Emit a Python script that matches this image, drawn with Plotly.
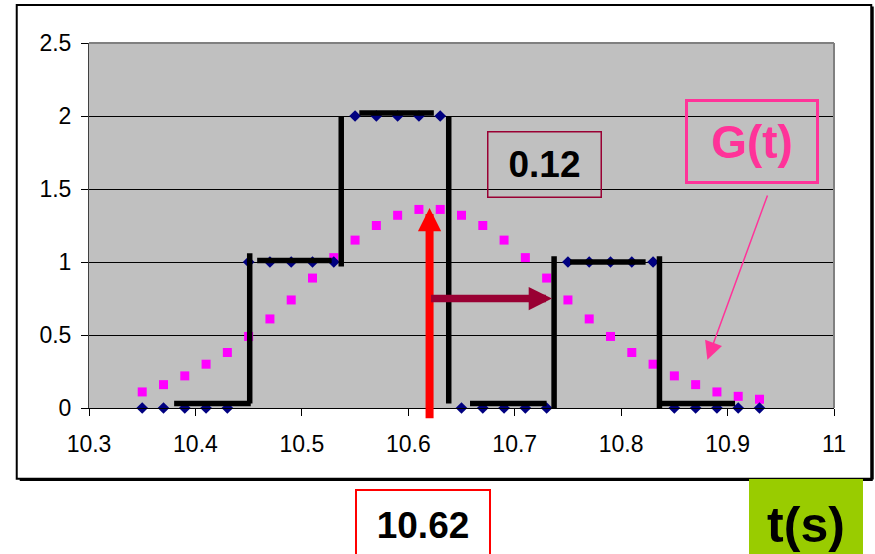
import plotly.graph_objects as go

# ---- data ----
t = [10.35, 10.37, 10.39, 10.41, 10.43, 10.45, 10.47, 10.49, 10.51, 10.53,
     10.55, 10.57, 10.59, 10.61, 10.63, 10.65, 10.67, 10.69, 10.71, 10.73,
     10.75, 10.77, 10.79, 10.81, 10.83, 10.85, 10.87, 10.89, 10.91, 10.93]
signal = [0, 0, 0, 0, 0, 1, 1, 1, 1, 1,
          2, 2, 2, 2, 2, 0, 0, 0, 0, 0,
          1, 1, 1, 1, 1, 0, 0, 0, 0, 0]
g_t = [0.11, 0.16, 0.22, 0.30, 0.38, 0.49, 0.61, 0.74, 0.89, 1.03,
       1.15, 1.25, 1.32, 1.36, 1.36, 1.32, 1.25, 1.15, 1.03, 0.89,
       0.74, 0.61, 0.49, 0.38, 0.30, 0.22, 0.16, 0.11, 0.08, 0.06]

# hand-drawn step segments (data coords), None separates segments
step_x = [10.38, 10.452, None, 10.451, 10.451, None, 10.458, 10.528, None,
          10.537, 10.537, None, 10.554, 10.624, None, 10.638, 10.638, None,
          10.658, 10.730, None, 10.737, 10.737, None, 10.752, 10.823, None,
          10.836, 10.836, None, 10.836, 10.907]
step_y = [0.03, 0.03, None, 0.03, 1.06, None, 1.01, 1.01, None,
          0.97, 1.995, None, 2.02, 2.02, None, 1.995, 0.03, None,
          0.03, 0.03, None, 0.0, 1.04, None, 1.0, 1.0, None,
          1.04, 0.0, None, 0.03, 0.03]

x_ticks = [10.3, 10.4, 10.5, 10.6, 10.7, 10.8, 10.9, 11.0]
x_ticktext = ["10.3", "10.4", "10.5", "10.6", "10.7", "10.8", "10.9", "11"]
y_ticks = [0, 0.5, 1, 1.5, 2, 2.5]
y_ticktext = ["0", "0.5", "1", "1.5", "2", "2.5"]

t_center = 10.62
t_shift = 0.12
arrow_tip_y = 1.37
shift_arrow_y = 0.75

FONT = "Arial, Liberation Sans, sans-serif"

fig = go.Figure()
fig.add_trace(go.Scatter(x=t, y=g_t, mode="markers",
                         marker=dict(symbol="square", size=9, color="#FF00FF"),
                         cliponaxis=False, showlegend=False))
fig.add_trace(go.Scatter(x=t, y=signal, mode="markers",
                         marker=dict(symbol="diamond", size=9, color="#000080"),
                         cliponaxis=False, showlegend=False))
fig.add_trace(go.Scatter(x=step_x, y=step_y, mode="lines",
                         line=dict(color="black", width=5.5),
                         connectgaps=False, cliponaxis=False, showlegend=False))

fig.update_layout(
    width=875, height=554,
    margin=dict(l=89, r=41, t=43, b=146),
    paper_bgcolor="white",
    plot_bgcolor="#C0C0C0",
    font=dict(family=FONT, size=23, color="black"),
    xaxis=dict(range=[10.3, 11.0], tickvals=x_ticks, ticktext=x_ticktext,
               showgrid=False, zeroline=False, showline=True, linecolor="black",
               linewidth=1, ticks="outside", ticklen=7, tickcolor="black",
               ticklabelstandoff=8),
    yaxis=dict(range=[0, 2.5], tickvals=y_ticks, ticktext=y_ticktext,
               showgrid=True, gridcolor="black", gridwidth=1, zeroline=False,
               showline=True, linecolor="#404040", linewidth=1,
               ticks="outside", ticklen=7, tickcolor="black",
               ticklabelstandoff=5),
)

# plot area border (top/right) gray
fig.add_shape(type="line", xref="paper", yref="paper", x0=0, x1=1, y0=1, y1=1,
              line=dict(color="#808080", width=2), layer="above")
fig.add_shape(type="line", xref="paper", yref="paper", x0=1, x1=1, y0=0, y1=1,
              line=dict(color="#808080", width=2), layer="above")
# outer chart frame
fig.add_shape(type="rect", xref="paper", yref="paper",
              x0=-0.097, x1=1.050, y0=-0.194, y1=1.104,
              line=dict(color="black", width=2), layer="below")
fig.add_shape(type="line", xref="paper", yref="paper",
              x0=1.052, x1=1.052, y0=-0.196, y1=1.100,
              line=dict(color="black", width=2), layer="below")
fig.add_shape(type="line", xref="paper", yref="paper",
              x0=-0.093, x1=1.052, y0=-0.197, y1=-0.197,
              line=dict(color="black", width=2), layer="below")

# arrows
fig.add_annotation(x=t_center, y=arrow_tip_y, ax=t_center, ay=-0.08,
                   xref="x", yref="y", axref="x", ayref="y", text="",
                   showarrow=True, arrowhead=2, arrowsize=0.58, arrowwidth=8,
                   arrowcolor="#FF0000", standoff=0, startstandoff=0)
fig.add_annotation(x=t_center + t_shift - 0.005, y=shift_arrow_y, ax=t_center,
                   ay=shift_arrow_y, xref="x", yref="y", axref="x", ayref="y",
                   text="", showarrow=True, arrowhead=2, arrowsize=0.62,
                   arrowwidth=7.5, arrowcolor="#990033", standoff=0)
fig.add_annotation(x=10.881, y=0.33, ax=10.938, ay=1.466,
                   xref="x", yref="y", axref="x", ayref="y", text="",
                   showarrow=True, arrowhead=2, arrowsize=2.4, arrowwidth=1.5,
                   arrowcolor="#FF3399", standoff=0)

# text boxes
box_common = dict(xref="paper", yref="paper", showarrow=False,
                  xanchor="center", yanchor="middle", borderpad=0)
fig.add_annotation(x=0.611, y=0.668, text="<b>%.2f</b>" % t_shift,
                   font=dict(family=FONT, size=37, color="black"),
                   width=112, height=64,
                   bordercolor="#990033", borderwidth=1.5, **box_common)
fig.add_annotation(x=0.8906, y=0.7315, text="<b>G(t)</b>",
                   font=dict(family=FONT, size=46, color="#FF3399"),
                   width=128, height=79,
                   bordercolor="#FF3399", borderwidth=3, **box_common)
fig.add_annotation(x=0.448, y=-0.321, text="<b>%.2f</b>" % t_center,
                   font=dict(family=FONT, size=37, color="black"),
                   width=132, height=69, bgcolor="white",
                   bordercolor="#FF0000", borderwidth=2, **box_common)
fig.add_annotation(x=0.962, y=-0.3195, text="<b>t(s)</b>",
                   font=dict(family=FONT, size=50, color="black"),
                   width=114, height=91, bgcolor="#99CC00",
                   borderwidth=0, **box_common)

fig.write_html("out.html",
               config={"displayModeBar": False},
               post_script="document.body.style.margin='0';document.body.style.overflow='hidden';")
